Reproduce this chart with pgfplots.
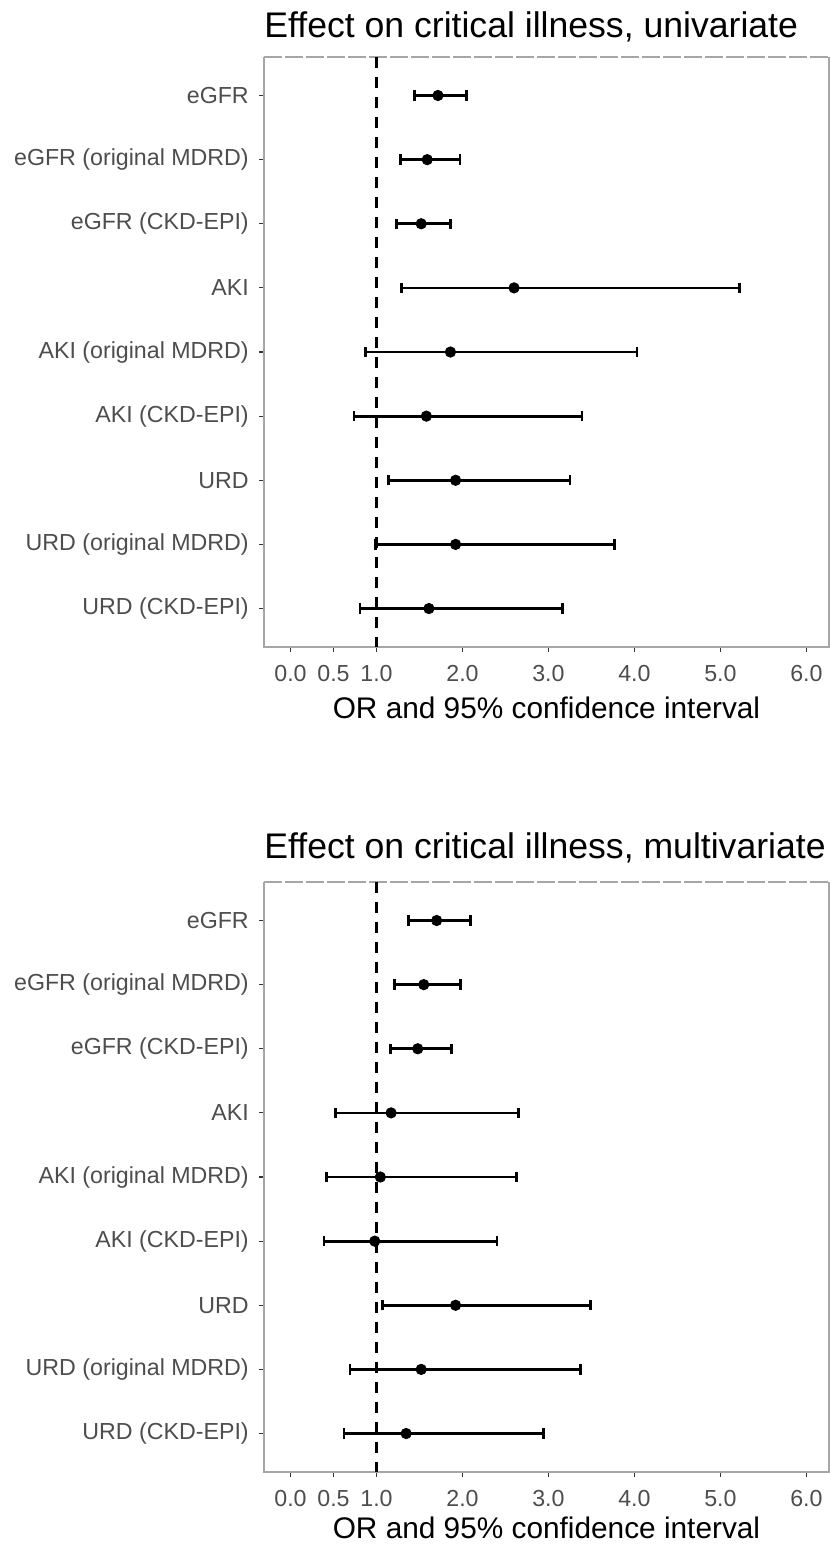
\documentclass[border=0pt]{standalone}
\usepackage{pgfplots}
\pgfplotsset{compat=1.18}
\usepackage{pgfplotstable}
\usepackage{fontspec}
\setmainfont{Liberation Sans}
\definecolor{grey30}{HTML}{4D4D4D}
\definecolor{grey20}{HTML}{333333}
\definecolor{bordergrey}{HTML}{A6A6A6}

\pgfplotstableread{
row or lo hi
1 1.715 1.44 2.05
2 1.59 1.28 1.97
3 1.52 1.23 1.86
4 2.60 1.29 5.22
5 1.86 0.87 4.03
6 1.58 0.74 3.39
7 1.92 1.14 3.25
8 1.92 0.99 3.77
9 1.61 0.81 3.16
}\uni

\pgfplotstableread{
row or lo hi
1 1.70 1.37 2.09
2 1.55 1.21 1.98
3 1.48 1.16 1.87
4 1.17 0.52 2.65
5 1.045 0.42 2.63
6 0.98 0.39 2.40
7 1.92 1.07 3.49
8 1.52 0.69 3.37
9 1.345 0.62 2.94
}\multi

\pgfplotsset{
  forest/.style={
    scale only axis,
    width=282.5pt, height=295pt,
    xmin=-0.308, xmax=6.262,
    ymin=0.4, ymax=9.6,
    y dir=reverse,
    axis line style={draw=none},
    xtick={0,0.5,1,2,3,4,5,6},
    xticklabels={0.0,0.5,1.0,2.0,3.0,4.0,5.0,6.0},
    ytick={1,...,9},
    yticklabels={eGFR,eGFR (original MDRD),eGFR (CKD-EPI),AKI,AKI (original MDRD),AKI (CKD-EPI),URD,URD (original MDRD),URD (CKD-EPI)},
    xtick pos=lower, ytick pos=left,
    tick align=outside,
    major tick length=2.6pt,
    tick style={grey20, line width=0.55pt},
    ticklabel style={font=\fontsize{11.6}{13}\selectfont, text=grey30},
    xticklabel style={yshift=-3pt},
    yticklabel style={xshift=-1.5pt},
    xlabel={OR and 95\% confidence interval},
    xlabel style={font=\fontsize{14.9}{16}\selectfont, text=black, inner sep=0pt, yshift=-4pt},
    clip=false,
  },
  ci/.style={
    only marks, mark=*, mark size=2.6pt, black,
    error bars/.cd, x dir=both, x explicit,
    error bar style={line width=1.35pt, black},
    error mark=|,
    error mark options={line width=1.3pt, mark size=2.6pt, black},
  },
  refline/.style={black, line width=1.25pt, dash pattern=on 5.5pt off 4.5pt},
}

\begin{document}
\begin{tikzpicture}
\path[use as bounding box] (0,0) rectangle (415pt,-772pt);

\begin{axis}[forest, at={(132pt,-323.5pt)}, anchor=south west]
  \draw[bordergrey, line width=0.6pt] (rel axis cs:0,1) -- (rel axis cs:0,0) -- (rel axis cs:1,0) -- (rel axis cs:1,1);
  \draw[bordergrey, line width=0.6pt, dash pattern=on 9pt off 1.5pt] (rel axis cs:0,1) -- (rel axis cs:1,1);
  \addplot[refline] coordinates {(1,0.4) (1,9.6)};
  \addplot[ci] table[x=or, y=row, x error plus expr=\thisrow{hi}-\thisrow{or}, x error minus expr=\thisrow{or}-\thisrow{lo}] {\uni};
\end{axis}
\node[anchor=base west, inner sep=0pt, font=\fontsize{17.8}{20}\selectfont] at (132pt,-18.5pt) {Effect on critical illness, univariate};

\begin{axis}[forest, at={(132pt,-736pt)}, anchor=south west, xlabel style={yshift=2.5pt}]
  \draw[bordergrey, line width=0.6pt] (rel axis cs:0,1) -- (rel axis cs:0,0) -- (rel axis cs:1,0) -- (rel axis cs:1,1);
  \draw[bordergrey, line width=0.6pt, dash pattern=on 9pt off 1.5pt] (rel axis cs:0,1) -- (rel axis cs:1,1);
  \addplot[refline] coordinates {(1,0.4) (1,9.6)};
  \addplot[ci] table[x=or, y=row, x error plus expr=\thisrow{hi}-\thisrow{or}, x error minus expr=\thisrow{or}-\thisrow{lo}] {\multi};
\end{axis}
\node[anchor=base west, inner sep=0pt, font=\fontsize{17.8}{20}\selectfont] at (132pt,-429pt) {Effect on critical illness, multivariate};
\end{tikzpicture}
\end{document}
